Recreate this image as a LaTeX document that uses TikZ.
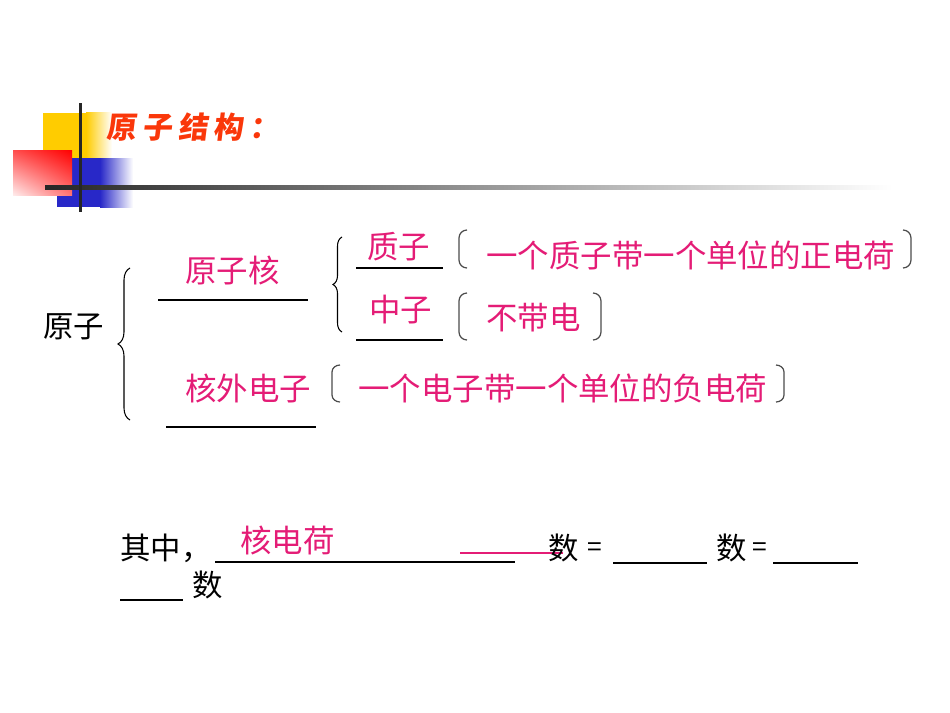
\documentclass[tikz,border=0pt]{standalone}
\usepackage{fontspec}
\setmainfont{Liberation Sans}
\newfontfamily\cjk{Noto Sans CJK SC}
\newfontfamily\cjktitle[LetterSpace=20,FakeSlant=0.12]{Noto Sans CJK SC}
\usetikzlibrary{decorations.pathreplacing,shadings}
\definecolor{ink}{RGB}{228,28,118}
\definecolor{titlered}{RGB}{250,55,10}
\definecolor{sunyellow}{RGB}{255,204,0}
\definecolor{deepblue}{RGB}{40,40,200}
\tikzset{
  answer/.style={text=ink,font=\cjk\fontsize{17.9}{20}\selectfont,inner sep=0pt,anchor=west},
  plain/.style={text=black,font=\cjk\fontsize{17.3}{20}\selectfont,inner sep=0pt,anchor=west},
  blank/.style={line width=0.8pt},
  paren/.style={draw=black!70,line width=0.7pt},
  curly/.style={decorate,decoration={brace,amplitude=#1},line width=0.6pt}
}

\begin{document}
\begin{tikzpicture}[x=0.02cm,y=-0.02cm]
  \useasboundingbox (0,0) rectangle (950,713);

  % title decoration
  \fill[sunyellow] (43,113) rectangle (86,158);
  \shade[left color=sunyellow,right color=white] (86,113) rectangle (112,158);
  \fill[deepblue] (57,158) rectangle (100,207);
  \shade[left color=deepblue,right color=white] (100,158) rectangle (133,207);
  \shade[upper left=red!70,upper right=red,lower left=red!8,lower right=red!55] (13,150) rectangle (72,195);
  \shade[left color=black!85,right color=white] (45,185.5) rectangle (892,189);
  \fill[black!85] (79,103) rectangle (82,212);
  \node[text=titlered,font=\cjktitle\bfseries\fontsize{17}{18}\selectfont,inner sep=0pt,anchor=west] (title) at (106,127) {原子结构：};

  % tree
  \node[plain] (atom) at (43,327) {原子};
  \draw[curly=0.24cm] (130,420) -- (130,268);
  \node[answer] (nucleus) at (185,270) {原子核};
  \draw[blank] (158,300) -- (308,300);
  \draw[curly=0.18cm] (342,332) -- (342,237);
  \node[answer] (proton) at (367,247) {质子};
  \draw[blank] (356,268) -- (443,268);
  \node[answer] (neutron) at (369,310) {中子};
  \draw[blank] (356,340) -- (443,340);
  \node[answer] (electron) at (185,388) {核外电子};
  \draw[blank] (166,427) -- (316,427);

  % notes
  \draw[paren] (467,230) to[out=180,in=90] (459,238) -- (459,260) to[out=-90,in=180] (467,268);
  \node[answer] (pnote) at (486,255) {一个质子带一个单位的正电荷};
  \draw[paren] (903,230) to[out=0,in=90] (911,238) -- (911,260) to[out=-90,in=0] (903,268);

  \draw[paren] (467,293) to[out=180,in=90] (459,301) -- (459,332) to[out=-90,in=180] (467,340);
  \node[answer] (nnote) at (486,318) {不带电};
  \draw[paren] (593,293) to[out=0,in=90] (601,301) -- (601,332) to[out=-90,in=0] (593,340);

  \draw[paren] (340,365) to[out=180,in=90] (332,372) -- (332,395) to[out=-90,in=180] (340,402);
  \node[answer] (enote) at (358,388) {一个电子带一个单位的负电荷};
  \draw[paren] (776,365) to[out=0,in=90] (784,372) -- (784,395) to[out=-90,in=0] (776,402);

  % relation
  \node[plain] (among) at (120,548) {其中，};
  \draw[blank] (215,562) -- (515,562);
  \node[answer] (charge) at (240,540) {核电荷};
  \draw[blank,ink] (460,553) -- (563,553);
  \node[plain] (num1) at (548,548) {数};
  \node[plain] (eq1) at (587,550) {\fontsize{15}{18}\selectfont =};
  \draw[blank] (613,563) -- (707,563);
  \node[plain] (num2) at (716,548) {数};
  \node[plain] (eq2) at (752,550) {\fontsize{15}{18}\selectfont =};
  \draw[blank] (773,563) -- (858,563);
  \draw[blank] (120,600) -- (183,600);
  \node[plain] (num3) at (192,585) {数};
\end{tikzpicture}
\end{document}
